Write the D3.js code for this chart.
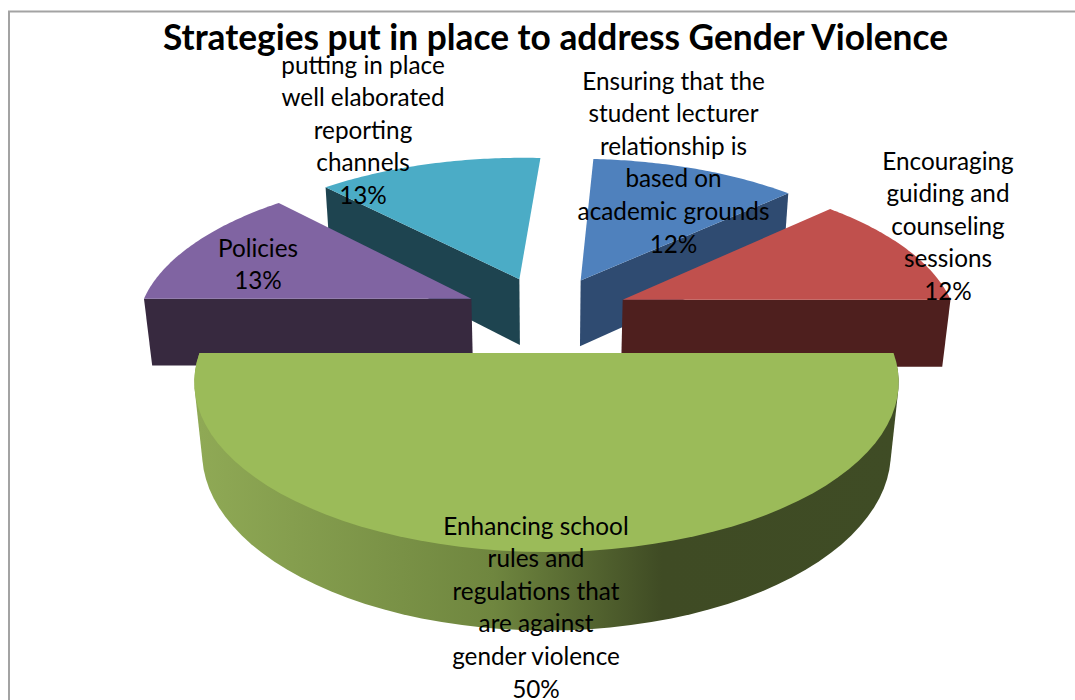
<!DOCTYPE html>
<html>
<head>
<meta charset="utf-8">
<script src="https://cdn.jsdelivr.net/npm/d3@7/dist/d3.min.js"></script>
<style>
  html, body { margin: 0; padding: 0; background: #fff; }
  svg { display: block; }
  text { font-family: Lato, "Open Sans", sans-serif; fill: #000; }
</style>
</head>
<body>
<svg id="chart" width="1075" height="700"></svg>
<script>
// Chart content
const chartTitle = "Strategies put in place to address Gender Violence";
const categories = [
  "Ensuring that the student lecturer relationship is based on academic grounds",
  "Encouraging guiding and counseling sessions",
  "Enhancing school rules and regulations that are against gender violence",
  "Policies",
  "putting in place well elaborated reporting channels"
];
const shares = [12, 12, 50, 13, 13];
const labelLines = [
  ["Ensuring that the", "student lecturer", "relationship is", "based on", "academic grounds"],
  ["Encouraging", "guiding and", "counseling", "sessions"],
  ["Enhancing school", "rules and", "regulations that", "are against", "gender violence"],
  ["Policies"],
  ["putting in place", "well elaborated", "reporting", "channels"]
];
const topColors = ["#4f81bd", "#c0504d", "#9bbb59", "#8064a2", "#4bacc6"];
const sideColors = ["#2f4b71", "#4e1f1e", "#3f4b24", "#37293f", "#1e4450"];

// Perspective camera for the tilted, exploded pie (unit radius on the ground plane)
const view = {
  cx: 546.5, horizon: -609, spanY: 962, spanX: 347,
  perspective: 0.1714, explode: 0.25,
  drop: 1.096, dropDepth: 0.022
};

function project(x, z, lower) {
  const w = 1 - view.perspective * z + (lower ? view.dropDepth : 0);
  return [
    view.cx + view.spanX * x / w,
    view.horizon + view.spanY * (lower ? view.drop : 1) / w
  ];
}

// Rotation that leaves the half-pie slice facing the viewer squarely
const firstAngle = Math.PI / 2 - (shares[0] + shares[1]) / 100 * 2 * Math.PI;
const pie = d3.pie().sort(null).value(d => d)
  .startAngle(firstAngle).endAngle(firstAngle + 2 * Math.PI);
const arcs = pie(shares);

const svg = d3.select("#chart");
const lineGen = d3.line();

// Frame runs off the right and bottom of the page
svg.append("path")
  .attr("d", lineGen([[9, 700], [9, 11.5], [1075, 11.5]]))
  .attr("fill", "none").attr("stroke", "#a3a3a3").attr("stroke-width", 2);

const defs = svg.append("defs");
const wallGradient = defs.append("linearGradient")
  .attr("id", "wall-shade").attr("gradientUnits", "userSpaceOnUse")
  .attr("x1", 200).attr("x2", 900).attr("y1", 0).attr("y2", 0);
[[0, "#8fa955"], [0.42, "#6f863f"], [0.66, "#3f4b24"], [1, "#3f4c25"]].forEach(([o, c]) =>
  wallGradient.append("stop").attr("offset", o).attr("stop-color", c));

function sliceGeometry(arc) {
  const mid = (arc.startAngle + arc.endAngle) / 2;
  const ox = view.explode * Math.sin(mid);
  const oz = -view.explode * Math.cos(mid) - view.explode;
  const steps = d3.range(0, 61).map(i => arc.startAngle + (arc.endAngle - arc.startAngle) * i / 60);
  const rim = lower => steps.map(a => project(ox + Math.sin(a), oz - Math.cos(a), lower));
  return {
    mid,
    apexTop: project(ox, oz, false),
    apexLow: project(ox, oz, true),
    rimTop: rim(false),
    rimLow: rim(true)
  };
}

// Back slices first so the nearer ones overlap them
const drawOrder = [4, 0, 3, 1, 2];
const sliceGroups = svg.selectAll("g.slice")
  .data(drawOrder)
  .join("g")
  .attr("class", "slice");

sliceGroups.each(function (idx) {
  const g = d3.select(this);
  const arc = arcs[idx];
  const geo = sliceGeometry(arc);

  if (idx === 2) {
    // The half-pie is the only slice whose curved wall faces the viewer
    g.append("path")
      .attr("d", lineGen(d3.polygonHull(geo.rimTop.concat(geo.rimLow))) + "Z")
      .attr("fill", "url(#wall-shade)");
  } else {
    // The other slices show just the cut face turned toward the viewer
    const onLeft = geo.mid > Math.PI;
    const edgeTop = onLeft ? geo.rimTop[0] : geo.rimTop[60];
    const edgeLow = onLeft ? geo.rimLow[0] : geo.rimLow[60];
    g.append("path")
      .attr("d", lineGen([geo.apexTop, edgeTop, edgeLow, geo.apexLow]) + "Z")
      .attr("fill", sideColors[idx]);
  }

  g.append("path")
    .attr("d", lineGen([geo.apexTop].concat(geo.rimTop)) + "Z")
    .attr("fill", topColors[idx]);
});

// Title
svg.append("text")
  .attr("x", 555.5).attr("y", 50)
  .attr("text-anchor", "middle")
  .attr("font-size", 35.3).attr("font-weight", 700)
  .text(chartTitle);

// Data labels: centre x and first-line baseline per slice
const labelAnchors = [[673.5, 89.5], [948, 169.5], [536, 534.5], [258, 256.5], [363, 73.5]];
const lineStep = 32.6;
shares.forEach((value, i) => {
  const lines = labelLines[i].concat(d3.format(".0f")(value) + "%");
  svg.append("text")
    .attr("class", "label")
    .attr("text-anchor", "middle")
    .attr("font-size", 24.3)
    .selectAll("tspan")
    .data(lines)
    .join("tspan")
    .attr("x", labelAnchors[i][0])
    .attr("y", (d, k) => labelAnchors[i][1] + k * lineStep)
    .text(d => d);
});
</script>
</body>
</html>
